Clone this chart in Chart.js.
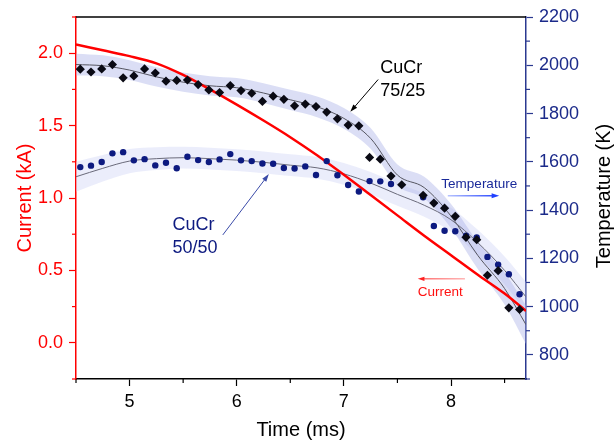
<!DOCTYPE html>
<html lang="en">
<head>
    <meta charset="UTF-8">
    <title>CuCr current and temperature</title>
    <script src="https://cdn.jsdelivr.net/npm/chart.js"></script>
    <style>
        body { margin: 0; background: #fff; }
        #wrap { width: 614px; height: 446px; }
    </style>
</head>
<body>
    <div id="wrap"><canvas id="chart" width="614" height="446"></canvas></div>
    <script>
        // current trace (kA)
        const currentTime = [4.5, 4.75, 5.0, 5.25, 5.5, 5.75, 6.0, 6.25, 6.5, 6.75, 7.0, 7.25, 7.5, 7.75, 8.0, 8.25, 8.5, 8.7];
        const currentKA = [2.06, 2.02, 1.98, 1.93, 1.85, 1.75, 1.645, 1.535, 1.42, 1.295, 1.16, 1.02, 0.88, 0.74, 0.605, 0.47, 0.34, 0.22];

        // measured temperatures (K)
        const time7525 = [4.54, 4.64, 4.74, 4.84, 4.94, 5.04, 5.14, 5.24, 5.34, 5.44, 5.54, 5.64, 5.74, 5.84, 5.94, 6.04, 6.14, 6.24, 6.34, 6.44, 6.54, 6.64, 6.74, 6.84, 6.94, 7.04, 7.14, 7.24, 7.34, 7.44, 7.54, 7.74, 7.84, 7.94, 8.04, 8.14, 8.24, 8.34, 8.44, 8.54, 8.64];
        const temp7525 = [1984, 1972, 1985, 2003, 1948, 1956, 1985, 1968, 1934, 1937, 1939, 1920, 1898, 1887, 1916, 1895, 1884, 1850, 1872, 1859, 1832, 1839, 1829, 1806, 1778, 1752, 1749, 1618, 1611, 1541, 1505, 1461, 1429, 1408, 1374, 1287, 1277, 1130, 1149, 995, 988];

        const time5050 = [4.54, 4.64, 4.74, 4.84, 4.94, 5.04, 5.14, 5.24, 5.34, 5.44, 5.54, 5.64, 5.74, 5.84, 5.94, 6.04, 6.14, 6.24, 6.34, 6.44, 6.54, 6.64, 6.74, 6.84, 6.94, 7.04, 7.14, 7.24, 7.34, 7.44, 7.74, 7.84, 7.94, 8.04, 8.14, 8.24, 8.34, 8.44, 8.54, 8.64];
        const temp5050 = [1578, 1584, 1599, 1635, 1640, 1606, 1611, 1585, 1596, 1573, 1621, 1607, 1599, 1610, 1632, 1606, 1603, 1593, 1592, 1574, 1572, 1581, 1545, 1603, 1544, 1504, 1477, 1520, 1519, 1508, 1453, 1334, 1314, 1312, 1294, 1287, 1206, 1174, 1134, 1051];

        // smooth fits and their bands
        const fitTime = [4.5, 4.75, 5.0, 5.25, 5.5, 5.75, 6.0, 6.25, 6.5, 6.75, 7.0, 7.25, 7.5, 7.75, 8.0, 8.25, 8.5, 8.7];
        const fit7525 = [2003, 1998, 1980, 1952, 1930, 1915, 1907, 1885, 1857, 1828, 1780, 1697, 1545, 1493, 1375, 1212, 1075, 925];
        const band7525 = [45, 43, 41, 40, 40, 40, 40, 41, 42, 43, 43, 43, 44, 45, 50, 56, 66, 80];
        const fit5050 = [1538, 1573, 1603, 1613, 1617, 1613, 1607, 1598, 1586, 1575, 1550, 1512, 1465, 1420, 1360, 1265, 1150, 1040];
        const band5050 = [62, 55, 50, 47, 45, 45, 45, 45, 45, 45, 45, 46, 47, 48, 50, 53, 58, 62];

        // axis ticks
        const currentLabels = [0.0, 0.5, 1.0, 1.5, 2.0];
        const tempLabels = [800, 1000, 1200, 1400, 1600, 1800, 2000, 2200];
        const timeLabels = [5, 6, 7, 8];

        // notes and arrows, in (time, temperature) units
        const notes = [
            { lines: ['CuCr', '75/25'], t: 7.34, T: 1967, color: '#000000', size: 18, gap: 23 },
            { lines: ['CuCr', '50/50'], t: 5.40, T: 1317, color: '#0d1a80', size: 18, gap: 23 },
            { lines: ['Temperature'], t: 7.91, T: 1491, color: '#1a2a9a', size: 13.5, gap: 0 },
            { lines: ['Current'], t: 7.69, T: 1043, color: '#ff1010', size: 13.5, gap: 0 }
        ];
        const arrows = [
            { from: [7.32, 1941], to: [7.06, 1807], color: '#000000', width: 1, head: 8 },
            { from: [5.87, 1297], to: [6.30, 1549], color: '#3a4aa8', width: 1, head: 8 },
            { from: [7.97, 1459], to: [8.45, 1459], color: '#2040ff', width: 1.5, head: 8, fade: '#b8c4ff' },
            { from: [8.13, 1115], to: [7.69, 1115], color: '#ff2020', width: 1, head: 7, fade: '#ff9090' }
        ];

        const FONT = "'Liberation Sans', Arial, sans-serif";
        const NAVY = '#0d1a80';
        const AXIS_BLUE = '#2b3990';

        const pts = (xs, ys) => xs.map((x, i) => ({ x: x, y: ys[i] }));
        const near = (v, list) => list.some(l => Math.abs(l - v) < 1e-6);
        const majorOnly = (list, color) => c => (c.tick && near(c.tick.value, list)) ? color : 'rgba(0,0,0,0)';

        const notesPlugin = {
            id: 'notes',
            afterDraw(chart) {
                const ctx = chart.ctx;
                const xs = chart.scales.x, ys = chart.scales.yTemp, yc = chart.scales.yCur;
                const area = chart.chartArea;
                ctx.save();
                // top frame line
                ctx.strokeStyle = '#000';
                ctx.lineWidth = 1.5;
                ctx.beginPath();
                ctx.moveTo(area.left, area.top);
                ctx.lineTo(area.right, area.top);
                ctx.stroke();

                // short minor ticks
                ctx.lineWidth = 1.2;
                const minor = (scale, list, color, draw) => {
                    ctx.strokeStyle = color;
                    scale.ticks.forEach(t => {
                        if (near(t.value, list)) return;
                        const p = scale.getPixelForValue(t.value);
                        ctx.beginPath();
                        draw(p);
                        ctx.stroke();
                    });
                };
                minor(xs, timeLabels, '#000', p => { ctx.moveTo(p, area.bottom); ctx.lineTo(p, area.bottom + 4); });
                minor(yc, currentLabels, '#ff0000', p => { ctx.moveTo(area.left, p); ctx.lineTo(area.left - 4, p); });
                minor(ys, tempLabels, AXIS_BLUE, p => { ctx.moveTo(area.right, p); ctx.lineTo(area.right + 4, p); });

                // right axis title, reading bottom to top
                ctx.save();
                ctx.translate(610, (area.top + area.bottom) / 2 - 2);
                ctx.rotate(-Math.PI / 2);
                ctx.fillStyle = '#000';
                ctx.font = '20px ' + FONT;
                ctx.textAlign = 'center';
                ctx.textBaseline = 'alphabetic';
                ctx.fillText('Temperature (K)', 0, 0);
                ctx.restore();

                notes.forEach(n => {
                    ctx.fillStyle = n.color;
                    ctx.font = n.size + 'px ' + FONT;
                    ctx.textAlign = 'left';
                    ctx.textBaseline = 'alphabetic';
                    const x = xs.getPixelForValue(n.t);
                    const y = ys.getPixelForValue(n.T);
                    n.lines.forEach((s, i) => ctx.fillText(s, x, y + i * n.gap));
                });

                arrows.forEach(a => {
                    const x0 = xs.getPixelForValue(a.from[0]), y0 = ys.getPixelForValue(a.from[1]);
                    const x1 = xs.getPixelForValue(a.to[0]), y1 = ys.getPixelForValue(a.to[1]);
                    const ang = Math.atan2(y1 - y0, x1 - x0);
                    let stroke = a.color;
                    if (a.fade) {
                        const g = ctx.createLinearGradient(x0, y0, x1, y1);
                        g.addColorStop(0, a.fade);
                        g.addColorStop(1, a.color);
                        stroke = g;
                    }
                    ctx.strokeStyle = stroke;
                    ctx.lineWidth = a.width;
                    ctx.beginPath();
                    ctx.moveTo(x0, y0);
                    ctx.lineTo(x1 - Math.cos(ang) * a.head * 0.8, y1 - Math.sin(ang) * a.head * 0.8);
                    ctx.stroke();
                    ctx.fillStyle = a.color;
                    ctx.beginPath();
                    ctx.moveTo(x1, y1);
                    ctx.lineTo(x1 - a.head * Math.cos(ang - 0.32), y1 - a.head * Math.sin(ang - 0.32));
                    ctx.lineTo(x1 - a.head * Math.cos(ang + 0.32), y1 - a.head * Math.sin(ang + 0.32));
                    ctx.closePath();
                    ctx.fill();
                });
                ctx.restore();
            }
        };

        const bandLine = { pointRadius: 0, borderWidth: 0, tension: 0.4, cubicInterpolationMode: 'monotone', yAxisID: 'yTemp' };

        new Chart(document.getElementById('chart'), {
            type: 'line',
            data: {
                datasets: [
                    Object.assign({ data: pts(fitTime, fit5050.map((v, i) => v + band5050[i])), fill: false, order: 9 }, bandLine),
                    Object.assign({ data: pts(fitTime, fit5050.map((v, i) => v - band5050[i])), fill: '-1',
                        backgroundColor: 'rgba(205,210,245,0.4)', order: 9 }, bandLine),
                    Object.assign({ data: pts(fitTime, fit7525.map((v, i) => v + band7525[i])), fill: false, order: 8 }, bandLine),
                    Object.assign({ data: pts(fitTime, fit7525.map((v, i) => v - band7525[i])), fill: '-1',
                        backgroundColor: 'rgba(170,176,232,0.42)', order: 8 }, bandLine),
                    {
                        data: pts(fitTime, fit5050), yAxisID: 'yTemp', borderColor: '#6a6a7a', borderWidth: 1,
                        pointRadius: 0, tension: 0.4, cubicInterpolationMode: 'monotone', order: 6
                    },
                    {
                        data: pts(fitTime, fit7525), yAxisID: 'yTemp', borderColor: '#555560', borderWidth: 1,
                        pointRadius: 0, tension: 0.4, cubicInterpolationMode: 'monotone', order: 6
                    },
                    {
                        data: pts(currentTime, currentKA), yAxisID: 'yCur', borderColor: '#ff0000', borderWidth: 2.5,
                        pointRadius: 0, cubicInterpolationMode: 'monotone', order: 4
                    },
                    {
                        data: pts(time5050, temp5050), yAxisID: 'yTemp', showLine: false, pointStyle: 'circle',
                        pointRadius: 3.2, backgroundColor: NAVY, borderColor: NAVY, borderWidth: 0, order: 2
                    },
                    {
                        data: pts(time7525, temp7525), yAxisID: 'yTemp', showLine: false, pointStyle: 'rectRot',
                        pointRadius: 4.6, backgroundColor: '#0a0a14', borderColor: '#0a0a14', borderWidth: 0, order: 1
                    }
                ]
            },
            options: {
                responsive: false,
                animation: false,
                layout: { padding: { top: 17, left: 0, right: 0, bottom: 0 } },
                plugins: { legend: { display: false }, tooltip: { enabled: false } },
                scales: {
                    x: {
                        type: 'linear', position: 'bottom', min: 4.5, max: 8.7,
                        afterFit(s) { s.height = 67; },
                        ticks: {
                            stepSize: 0.5, includeBounds: false, autoSkip: false, maxRotation: 0, padding: 5,
                            color: '#000', font: { family: FONT, size: 18 },
                            callback: v => near(v, timeLabels) ? String(Math.round(v)) : ''
                        },
                        grid: { drawOnChartArea: false, tickLength: 7, tickColor: majorOnly(timeLabels, '#000'), tickWidth: 1.2 },
                        border: { color: '#000', width: 1.5 },
                        title: { display: true, text: 'Time (ms)', color: '#000', font: { family: FONT, size: 20 }, padding: { top: 4, bottom: 4 } }
                    },
                    yCur: {
                        type: 'linear', position: 'left', min: -0.25, max: 2.25,
                        afterFit(s) { s.width = 76; },
                        ticks: {
                            stepSize: 0.25, includeBounds: false, autoSkip: false, padding: 6,
                            color: '#ff0000', font: { family: FONT, size: 18 },
                            callback: v => near(v, currentLabels) ? v.toFixed(1) : ''
                        },
                        grid: { drawOnChartArea: false, tickLength: 7, tickColor: majorOnly(currentLabels, '#ff0000'), tickWidth: 1.2 },
                        border: { color: '#ff0000', width: 1.5 },
                        title: { display: true, text: 'Current (kA)', color: '#ff0000', font: { family: FONT, size: 20 }, padding: { top: 13, bottom: 4 } }
                    },
                    yTemp: {
                        type: 'linear', position: 'right', min: 700, max: 2200,
                        afterFit(s) { s.width = 88; },
                        ticks: {
                            stepSize: 100, includeBounds: false, autoSkip: false, padding: 6,
                            color: '#1b2a8a', font: { family: FONT, size: 18 },
                            callback: v => near(v, tempLabels) ? String(v) : ''
                        },
                        grid: { drawOnChartArea: false, tickLength: 7, tickColor: majorOnly(tempLabels, AXIS_BLUE), tickWidth: 1.2 },
                        border: { color: AXIS_BLUE, width: 1.5 },
                        title: { display: false }
                    }
                }
            },
            plugins: [notesPlugin]
        });
    </script>
</body>
</html>
